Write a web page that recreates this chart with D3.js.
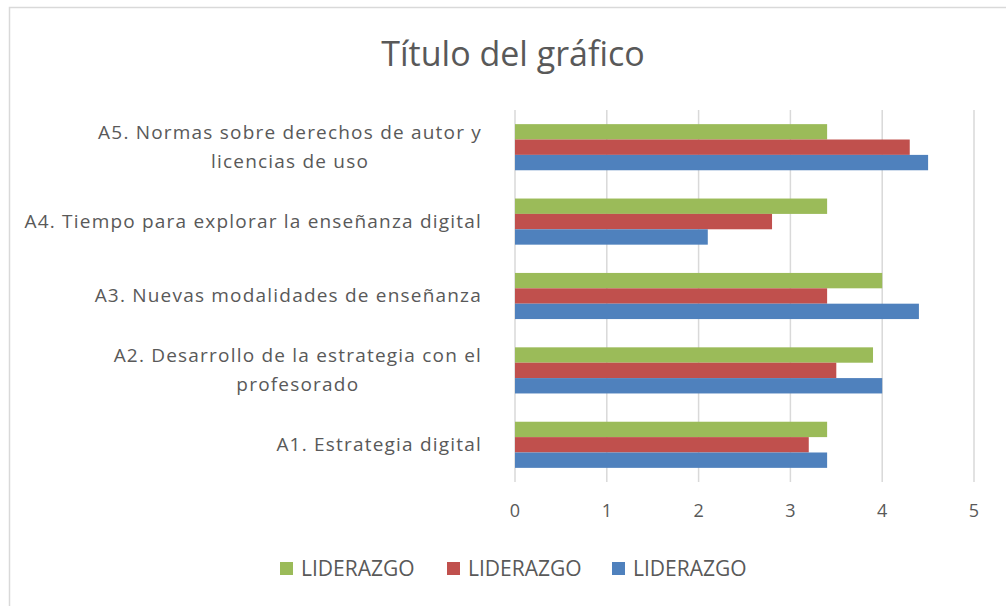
<!DOCTYPE html>
<html lang="es">
<head>
<meta charset="utf-8">
<title>Título del gráfico</title>
<script src="https://cdn.jsdelivr.net/npm/d3@7"></script>
<style>
  body{ margin:0; background:#fff; }
  text{ font-family:"Open Sans", sans-serif; fill:#595959; }
</style>
</head>
<body>
<div id="chart"></div>
<script>
// categories from bottom to top, each entry split in the lines it is drawn with
var categories = [
  ["A1. Estrategia digital"],
  ["A2. Desarrollo de la estrategia con el", "profesorado"],
  ["A3. Nuevas modalidades de enseñanza"],
  ["A4. Tiempo para explorar la enseñanza digital"],
  ["A5. Normas sobre derechos de autor y", "licencias de uso"]
]
var seriesNames = ["LIDERAZGO", "LIDERAZGO", "LIDERAZGO"]
var seriesColors = ["#9BBB59", "#C0504D", "#4F81BD"]
// one array per series, same order as categories
var greenValues = [3.4, 3.9, 4.0, 3.4, 3.4]
var redValues   = [3.2, 3.5, 3.4, 2.8, 4.3]
var blueValues  = [3.4, 4.0, 4.4, 2.1, 4.5]
var xTicks = [0, 1, 2, 3, 4, 5]

var width = 1006, height = 606
var plotLeft = 515, plotRight = 974, plotTop = 110, plotBottom = 482

var svg = d3.select("#chart").append("svg").attr("width", width).attr("height", height)

// chart frame, only top and left edges are visible in the picture
svg.append("rect")
  .attr("x", 9.5).attr("y", 7.5)
  .attr("width", 1020).attr("height", 620)
  .attr("fill", "none").attr("stroke", "#d9d9d9").attr("stroke-width", 1.5)

svg.append("text")
  .attr("x", 513).attr("y", 66)
  .attr("text-anchor", "middle")
  .style("font-size", "34px")
  .text("Título del gráfico")

var x = d3.scaleLinear().domain([0, 5]).range([plotLeft, plotRight])
var keys = categories.map(function(c){ return c.join(" ") })
var y = d3.scaleBand().domain(keys.slice().reverse()).range([plotTop, plotBottom])
  .paddingInner(0.38).paddingOuter(0.19)
var sub = d3.scaleBand().domain([0, 1, 2]).range([0, y.bandwidth()])

// gridlines
svg.selectAll(".grid")
  .data(xTicks)
  .enter()
  .append("line")
  .attr("class", "grid")
  .attr("x1", function(d){ return x(d) }).attr("x2", function(d){ return x(d) })
  .attr("y1", plotTop).attr("y2", plotBottom)
  .attr("stroke", "#d9d9d9").attr("stroke-width", 1.5)

var series = [greenValues, redValues, blueValues]
series.forEach(function(vals, s){
  svg.selectAll(".bar" + s)
    .data(vals)
    .enter()
    .append("rect")
    .attr("class", "bar" + s)
    .attr("x", x(0))
    .attr("y", function(d, i){ return y(keys[i]) + sub(s) })
    .attr("width", function(d){ return x(d) - x(0) })
    .attr("height", sub.bandwidth())
    .attr("fill", seriesColors[s])
})

// x tick labels
svg.selectAll(".tick")
  .data(xTicks)
  .enter()
  .append("text")
  .attr("class", "tick")
  .attr("x", function(d){ return x(d) })
  .attr("y", 517)
  .attr("text-anchor", "middle")
  .style("font-size", "18px")
  .text(function(d){ return d })

// category labels
var lineGap = 29
categories.forEach(function(lines, i){
  var cy = y(keys[i]) + y.bandwidth() / 2
  var t = svg.append("text")
    .attr("text-anchor", "middle")
    .style("font-size", "19px")
    .style("letter-spacing", "1.2px")
  lines.forEach(function(line, j){
    t.append("tspan")
      .attr("x", 0)
      .attr("y", cy + 6 + (j - (lines.length - 1) / 2) * lineGap)
      .text(line)
  })
  // right align the block, lines centred within it
  var w = t.node().getBBox().width
  t.attr("transform", "translate(" + (482 - w / 2) + ",0)")
})

// legend
var legendX = [280, 447, 612]
seriesNames.forEach(function(name, s){
  svg.append("rect")
    .attr("x", legendX[s]).attr("y", 562)
    .attr("width", 13).attr("height", 13)
    .attr("fill", seriesColors[s])
  svg.append("text")
    .attr("x", legendX[s] + 21).attr("y", 576)
    .style("font-size", "21px")
    .text(name)
})
</script>
</body>
</html>
